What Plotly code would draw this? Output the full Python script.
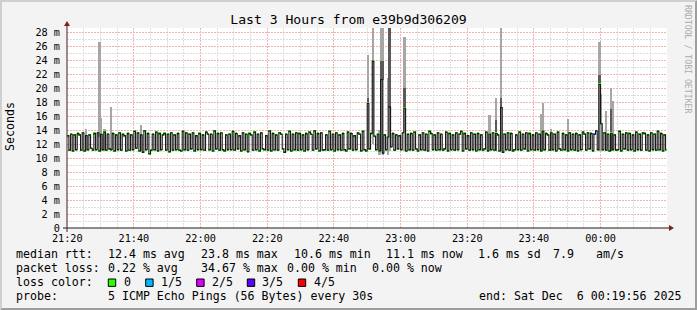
import plotly.graph_objects as go
import pandas as pd

# ---------------- data ----------------
TITLE = "Last 3 Hours from e39b9d306209"
start_time = "2025-12-05 21:20:00"
step_seconds = 30
axis_start = "2025-12-05 21:19:56"
axis_end = "2025-12-06 00:19:56"

# median rtt per 30 s step, in ms
median_ms = [
    13.2, 11.1, 13.4, 11.0, 13.3, 11.2, 13.5, 13.3, 11.1, 13.6, 11.0, 13.2, 11.2, 13.3, 11.4, 11.1, 13.5, 11.2, 13.6, 11.0,
    13.4, 11.2, 13.7, 11.1, 13.4, 11.3, 11.2, 13.5, 11.0, 13.3, 11.2, 13.6, 11.1, 13.4, 13.2, 11.0, 13.5, 11.1, 13.3, 11.2,
    13.8, 11.4, 13.6, 11.0, 13.3, 10.8, 13.9, 11.2, 13.5, 10.6, 11.1, 13.4, 11.2, 13.7, 11.0, 13.5, 11.2, 13.3, 13.5, 11.1,
    13.4, 10.9, 13.6, 11.1, 13.3, 11.2, 13.5, 11.1, 11.0, 13.8, 11.2, 13.6, 11.1, 13.4, 11.3, 13.6, 11.0, 13.2, 11.2, 13.5,
    11.2, 13.3, 11.1, 13.7, 13.4, 11.2, 13.4, 11.0, 13.9, 11.3, 13.5, 11.1, 13.6, 11.2, 11.0, 13.3, 11.2, 13.4, 11.2, 13.8,
    11.1, 13.5, 11.3, 13.2, 11.0, 13.6, 11.2, 13.4, 10.9, 13.5, 13.3, 11.1, 13.7, 11.2, 13.4, 11.0, 13.6, 11.3, 11.2, 13.2,
    11.1, 13.9, 11.0, 13.5, 11.2, 13.3, 11.1, 13.6, 13.4, 11.3, 10.8, 13.4, 11.2, 13.8, 11.0, 13.4, 11.2, 13.6, 11.1, 13.5,
    11.2, 13.3, 11.0, 13.5, 11.2, 13.7, 13.4, 11.1, 13.9, 11.3, 13.5, 11.0, 13.6, 11.1, 11.2, 13.3, 11.1, 13.8, 11.2, 13.4,
    11.0, 13.6, 11.2, 13.3, 11.1, 13.5, 11.2, 11.0, 13.7, 11.3, 13.5, 11.1, 13.2, 11.2, 13.6, 13.4, 11.0, 13.8, 11.2, 11.0,
    17.8, 11.3, 13.5, 23.8, 13.1, 11.2, 13.4, 11.0, 21.2, 10.7, 13.3, 11.2, 13.0, 17.3, 11.6, 13.5, 11.1, 13.3, 11.3, 13.2,
    11.2, 13.6, 17.1, 11.0, 13.4, 11.2, 13.5, 11.1, 13.7, 11.3, 11.0, 13.3, 11.2, 13.6, 11.1, 13.4, 11.0, 13.8, 13.5, 11.2,
    13.3, 11.1, 13.6, 11.2, 13.4, 11.1, 11.3, 13.7, 11.0, 13.5, 11.2, 13.3, 11.1, 13.6, 11.2, 13.4, 13.8, 11.0, 13.5, 11.3,
    13.2, 11.1, 13.6, 11.2, 13.4, 11.0, 13.5, 11.2, 13.3, 11.1, 11.3, 13.7, 11.0, 13.4, 11.2, 13.6, 11.1, 13.5, 13.3, 11.0,
    17.2, 10.8, 13.4, 11.2, 13.6, 11.1, 13.5, 11.0, 11.2, 13.3, 11.2, 13.7, 11.1, 13.4, 11.3, 13.6, 11.0, 13.5, 11.2, 13.3,
    11.1, 13.6, 11.2, 13.4, 11.0, 13.8, 11.2, 13.5, 13.3, 11.1, 13.6, 11.2, 13.4, 11.0, 13.7, 11.3, 11.1, 13.5, 11.2, 13.3,
    11.0, 13.6, 11.2, 13.4, 11.1, 13.5, 11.0, 13.3, 11.2, 13.7, 13.4, 11.1, 13.6, 11.3, 13.5, 11.0, 13.4, 13.9, 11.2, 20.5,
    14.9, 11.2, 13.6, 11.1, 13.4, 11.0, 13.5, 11.2, 13.3, 11.1, 11.2, 13.8, 11.0, 13.4, 11.3, 13.6, 11.1, 13.5, 11.2, 13.3,
    11.0, 13.7, 11.2, 13.4, 11.1, 13.6, 13.5, 11.1, 13.3, 11.0, 13.6, 11.2, 13.4, 11.1, 13.8, 11.2, 13.5, 11.0, 13.3, 11.1,
]

# steps with packet loss (index into median_ms) and the loss level (n of 5)
loss_idx = [189, 193, 194, 316, 317]
loss_lvl = [1, 2, 1, 1, 1]

# outer smoke (ping spread), ms
smoke_idx = [11, 19, 20, 22, 26, 44, 180, 183, 187, 188, 189, 192, 193, 202,
             253, 257, 260, 284, 285, 290, 300, 319, 320, 323, 326, 327]
smoke_lo = [11.0, 13.0, 11.0, 11.0, 11.0, 11.0, 11.2, 12.0, 10.4, 11.0, 10.5, 10.4, 11.0, 11.0,
            11.0, 11.0, 11.0, 11.0, 11.0, 11.0, 11.0, 11.0, 11.0, 11.0, 11.0, 11.0]
smoke_hi = [14.2, 26.6, 15.7, 14.2, 17.3, 14.7, 24.7, 29.5, 14.0, 29.5, 29.5, 21.4, 29.5, 27.3,
            16.1, 18.6, 29.5, 16.3, 17.9, 14.2, 15.6, 26.6, 19.1, 16.7, 20.0, 18.1]

# inner (darker) smoke, ms
core_idx = [180, 188, 189, 193, 202, 257, 260, 319, 326]
core_lo = [17.8, 21.2, 21.2, 17.3, 17.1, 11.0, 17.2, 20.5, 11.0]
core_hi = [18.6, 23.8, 23.8, 29.5, 20.0, 15.4, 18.6, 21.8, 17.0]

loss_labels = ["0", "1/5", "2/5", "3/5", "4/5"]
loss_colors = ["#26ff00", "#00b8ff", "#dd00ff", "#5e00ff", "#ff0000"]

ytick_vals = list(range(0, 29, 2))
ytick_text = ["0"] + [f"{v} m" for v in range(2, 29, 2)]

legend_rows = [
    [(16, "median rtt:"), (107.3, "12.4 ms avg"), (200.7, "23.8 ms max"), (294, "10.6 ms min"),
     (386, "11.1 ms now"), (478, "1.6 ms sd"), (553, "7.9"), (596, "am/s")],
    [(16, "packet loss:"), (107.3, "0.22 % avg"), (200.7, "34.67 % max"), (287, "0.00 % min"),
     (371.7, "0.00 % now")],
    [(16, "loss color:")],
    [(16, "probe:"), (107.3, "5 ICMP Echo Pings (56 Bytes) every 30s"),
     (478.3, "end: Sat Dec\u00a0 6 00:19:56 2025")],
]
legend_row_y = [254, 268, 282, 296]
loss_box_x = [108.3, 145.7, 196.7, 247.3, 298.3]
loss_text_x = [123.3, 160.7, 211.7, 262, 313.3]

# ---------------- geometry ----------------
W, H = 697, 310
X0, XS, Y0, YS = 67, 600, 228, 200      # plot origin / size in px
def X(px):
    return (px - X0) / XS
def Y(py):
    return (Y0 - py) / YS

MONO = "DejaVu Sans Mono"
GRID = "#dedede"
MGRID = "#f5b0b0"
DASH = "2px,1px"

times = pd.date_range(start_time, periods=len(median_ms), freq=f"{step_seconds}s")
half = pd.Timedelta(seconds=step_seconds / 2)
bar_w = step_seconds * 1000

loss_of = {i: l for i, l in zip(loss_idx, loss_lvl)}
mark_colors = [loss_colors[loss_of.get(i, 0)] for i in range(len(median_ms))]

fig = go.Figure()
fig.add_trace(go.Bar(
    x=[times[i] + half for i in smoke_idx],
    y=[h - l for l, h in zip(smoke_lo, smoke_hi)], base=smoke_lo,
    width=bar_w, marker=dict(color="#a6a6a6", line=dict(width=0)), hoverinfo="skip"))
fig.add_trace(go.Bar(
    x=[times[i] + half for i in core_idx],
    y=[h - l for l, h in zip(core_lo, core_hi)], base=core_lo,
    width=bar_w, marker=dict(color="#5a5a5a", line=dict(width=0)), hoverinfo="skip"))
fig.add_trace(go.Scatter(
    x=times, y=median_ms, mode="lines",
    line=dict(color="#181818", width=1.1, shape="hv"), hoverinfo="skip"))
fig.add_trace(go.Bar(
    x=times + half, y=[0.3] * len(median_ms), base=[m - 0.15 for m in median_ms],
    width=bar_w, marker=dict(color=mark_colors, line=dict(width=0)), hoverinfo="skip"))

shapes = []
# bevel frame
shapes.append(dict(type="path", xref="paper", yref="paper", layer="above",
                   path=f"M{X(0)},{Y(0)} L{X(0)},{Y(H)} L{X(2)},{Y(H-2)} L{X(2)},{Y(2)} L{X(W-2)},{Y(2)} L{X(W)},{Y(0)} Z",
                   fillcolor="#cfcfcf", line=dict(width=0)))
shapes.append(dict(type="path", xref="paper", yref="paper", layer="above",
                   path=f"M{X(W)},{Y(H)} L{X(0)},{Y(H)} L{X(2)},{Y(H-2)} L{X(W-2)},{Y(H-2)} L{X(W-2)},{Y(2)} L{X(W)},{Y(0)} Z",
                   fillcolor="#9e9e9e", line=dict(width=0)))
# axes
shapes.append(dict(type="line", xref="paper", yref="paper", layer="above",
                   x0=X(X0 - 4), x1=X(X0 + XS + 4), y0=Y(Y0), y1=Y(Y0),
                   line=dict(color="#1f1f1f", width=1)))
shapes.append(dict(type="line", xref="paper", yref="paper", layer="above",
                   x0=X(X0), x1=X(X0), y0=Y(Y0 + 4), y1=Y(Y0 - YS - 4),
                   line=dict(color="#4a1c1c", width=1)))
# arrows
shapes.append(dict(type="path", xref="paper", yref="paper", layer="above",
                   path=f"M{X(X0+XS+2)},{Y(Y0-3)} L{X(X0+XS+2)},{Y(Y0+3)} L{X(X0+XS+7)},{Y(Y0)} Z",
                   fillcolor="#801f1f", line=dict(width=0)))
shapes.append(dict(type="path", xref="paper", yref="paper", layer="above",
                   path=f"M{X(X0-3)},{Y(Y0-YS-2)} L{X(X0+3)},{Y(Y0-YS-2)} L{X(X0)},{Y(Y0-YS-7)} Z",
                   fillcolor="#801f1f", line=dict(width=0)))
# loss colour boxes
for bx, col in zip(loss_box_x, loss_colors):
    shapes.append(dict(type="rect", xref="paper", yref="paper", layer="above",
                       x0=X(bx), x1=X(bx + 7.4), y0=Y(279), y1=Y(286.4),
                       fillcolor=col, line=dict(color="#000000", width=1)))

ann = []
for row, ry in zip(legend_rows, legend_row_y):
    for lx, txt in row:
        ann.append(dict(x=X(lx - 0.6), y=Y(ry), xref="paper", yref="paper", text=txt,
                        showarrow=False, xanchor="left", yanchor="middle", borderpad=0,
                        font=dict(family=MONO, size=11.6, color="#000000")))
for lx, txt in zip(loss_text_x, loss_labels):
    ann.append(dict(x=X(lx - 0.6), y=Y(282), xref="paper", yref="paper", text=txt,
                    showarrow=False, xanchor="left", yanchor="middle", borderpad=0,
                    font=dict(family=MONO, size=11.6, color="#000000")))
ann.append(dict(x=X(10), y=Y(127), xref="paper", yref="paper", text="Seconds",
                showarrow=False, textangle=-90, xanchor="center", yanchor="middle",
                font=dict(family=MONO, size=11.6, color="#000000")))
ann.append(dict(x=X(688), y=Y(59), xref="paper", yref="paper", text="RRDTOOL / TOBI OETIKER",
                showarrow=False, textangle=90, xanchor="center", yanchor="middle",
                font=dict(family=MONO, size=8.2, color="#acacac")))

fig.update_layout(
    width=W, height=H,
    margin=dict(l=X0, r=W - X0 - XS, t=Y0 - YS, b=H - Y0, pad=0),
    paper_bgcolor="#f3f3f3", plot_bgcolor="#ffffff",
    barmode="overlay", bargap=0, showlegend=False,
    title=dict(text=TITLE, x=0.5, xref="container", xanchor="center",
               y=1 - 19 / H, yref="container", yanchor="middle",
               font=dict(family=MONO, size=13.1, color="#000000")),
    xaxis=dict(type="date", range=[axis_start, axis_end], tickformat="%H:%M",
               tick0=start_time, dtick=20 * 60 * 1000,
               showgrid=True, gridcolor=MGRID, griddash=DASH, gridwidth=1,
               minor=dict(tick0=start_time, dtick=5 * 60 * 1000, showgrid=True,
                          gridcolor=GRID, griddash=DASH, gridwidth=1),
               showline=False, zeroline=False, ticks="outside", ticklen=1,
               tickcolor="rgba(0,0,0,0)",
               tickfont=dict(family=MONO, size=10.2, color="#000000"), fixedrange=True),
    yaxis=dict(range=[0, YS / 7], tickvals=ytick_vals, ticktext=ytick_text,
               showgrid=True, gridcolor=MGRID, griddash=DASH, gridwidth=1,
               minor=dict(dtick=1, showgrid=True, gridcolor=GRID, griddash=DASH, gridwidth=1),
               showline=False, zeroline=False, ticks="outside", ticklen=4,
               tickcolor="rgba(0,0,0,0)",
               tickfont=dict(family=MONO, size=10.2, color="#000000"), fixedrange=True),
    shapes=shapes, annotations=ann,
)

fig.write_html("out.html")
